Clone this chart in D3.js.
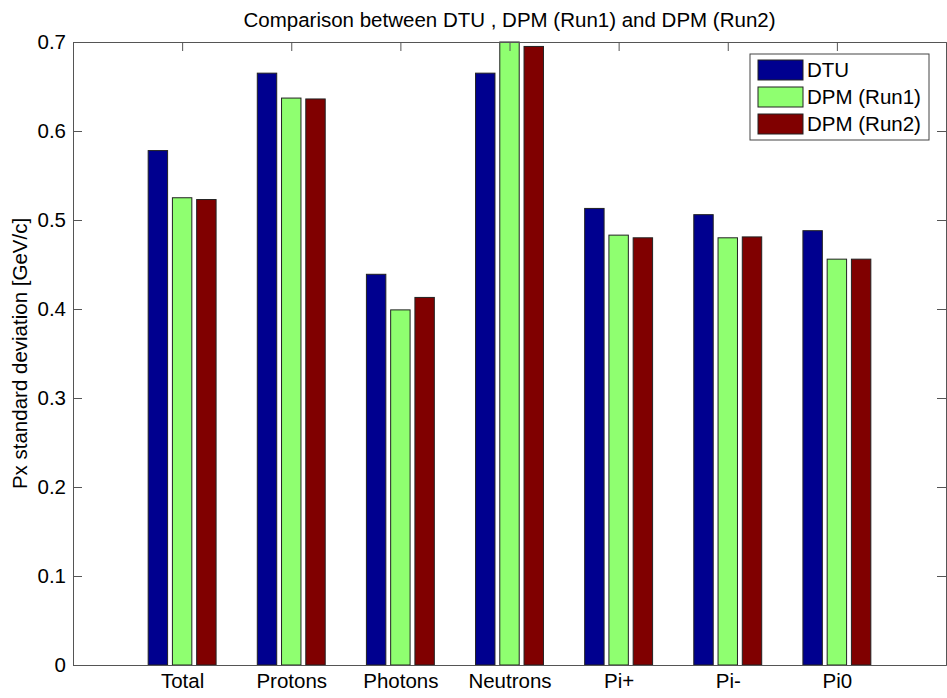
<!DOCTYPE html>
<html>
<head>
<meta charset="utf-8">
<script src="https://cdn.jsdelivr.net/npm/d3@7"></script>
<style>
  body { margin: 0; background: #fff; }
  svg { display: block; }
</style>
</head>
<body>
<div id="chart"></div>
<script>
// Px standard deviation per particle type

const categories = ["Total", "Protons", "Photons", "Neutrons", "Pi+", "Pi-", "Pi0"];
const seriesNames = ["DTU", "DPM (Run1)", "DPM (Run2)"];
const dtu  = [0.578, 0.665, 0.439, 0.665, 0.513, 0.506, 0.488];
const run1 = [0.525, 0.637, 0.399, 0.700, 0.483, 0.480, 0.456];
const run2 = [0.523, 0.636, 0.413, 0.695, 0.480, 0.481, 0.456];
const yTicks = [0, 0.1, 0.2, 0.3, 0.4, 0.5, 0.6, 0.7];

const colors = ["#00008f", "#8fff70", "#800000"]; // jet-like
const series = [dtu, run1, run2];

const width = 947;
const height = 698;
const margin = { top: 42, right: 1, bottom: 33, left: 73 };
const fontSize = "20.5px";

const svg = d3.select("#chart").append("svg")
  .attr("width", width)
  .attr("height", height)
  .style("font-family", "'Liberation Sans', Arial, sans-serif");

// x in group units (MATLAB style: 0 .. n+1)
const x = d3.scaleLinear()
  .domain([0, categories.length + 1])
  .range([margin.left, width - margin.right]);

const y = d3.scaleLinear()
  .domain([0, 0.7])
  .range([height - margin.bottom, margin.top]);

const groupOffset = 0.2222;
const barW = 0.178;

// bars
series.forEach((vals, si) => {
  svg.append("g")
    .selectAll("rect")
    .data(vals)
    .enter()
    .append("rect")
    .attr("x", (d, i) => x(i + 1 + (si - 1) * groupOffset - barW / 2))
    .attr("y", d => y(d))
    .attr("width", x(barW) - x(0))
    .attr("height", d => y(0) - y(d))
    .attr("fill", colors[si])
    .attr("stroke", "#222")
    .attr("stroke-width", 1);
});

// axes box
const axisColor = "#555";
const tickLen = 9;

// left axis
const leftAxis = svg.append("g")
  .attr("transform", `translate(${margin.left},0)`)
  .call(d3.axisLeft(y).tickValues(yTicks).tickFormat(d => d === 0 ? "0" : d3.format(".1f")(d)).tickSize(-tickLen).tickPadding(7));
leftAxis.select(".domain").attr("stroke", axisColor);
leftAxis.selectAll(".tick line").attr("stroke", axisColor);
leftAxis.selectAll("text").style("font-size", fontSize).attr("fill", "#000");

// right axis
const rightAxis = svg.append("g")
  .attr("transform", `translate(${width - margin.right},0)`)
  .call(d3.axisRight(y).tickValues(yTicks).tickFormat("").tickSize(-tickLen));
rightAxis.select(".domain").attr("stroke", axisColor);
rightAxis.selectAll(".tick line").attr("stroke", axisColor);

// bottom axis
const catTicks = categories.map((c, i) => i + 1);
const bottomAxis = svg.append("g")
  .attr("transform", `translate(0,${height - margin.bottom})`)
  .call(d3.axisBottom(x).tickValues(catTicks).tickFormat((d, i) => categories[i]).tickSize(0).tickPadding(8));
bottomAxis.select(".domain").attr("stroke", axisColor);
bottomAxis.selectAll("text").style("font-size", fontSize).attr("fill", "#000");

// top axis
const topAxis = svg.append("g")
  .attr("transform", `translate(0,${margin.top})`)
  .call(d3.axisTop(x).tickValues(catTicks).tickFormat("").tickSize(-tickLen));
topAxis.select(".domain").attr("stroke", axisColor);
topAxis.selectAll(".tick line").attr("stroke", axisColor);

// title
svg.append("text")
  .attr("x", (margin.left + width - margin.right) / 2)
  .attr("y", 27)
  .attr("text-anchor", "middle")
  .style("font-size", fontSize)
  .text("Comparison between DTU , DPM (Run1) and DPM (Run2)");

// y label
svg.append("text")
  .attr("transform", `translate(27,${(margin.top + height - margin.bottom) / 2}) rotate(-90)`)
  .attr("text-anchor", "middle")
  .style("font-size", fontSize)
  .text("Px standard deviation [GeV/c]");

// legend
const legend = svg.append("g").attr("transform", "translate(750,54)");
legend.append("rect")
  .attr("width", 179)
  .attr("height", 86)
  .attr("fill", "#fff")
  .attr("stroke", "#444");

seriesNames.forEach((name, i) => {
  legend.append("rect")
    .attr("x", 8)
    .attr("y", 6 + i * 27)
    .attr("width", 45)
    .attr("height", 20)
    .attr("fill", colors[i])
    .attr("stroke", "#222");
  legend.append("text")
    .attr("x", 57)
    .attr("y", 23 + i * 27)
    .style("font-size", fontSize)
    .text(name);
});
</script>
</body>
</html>
